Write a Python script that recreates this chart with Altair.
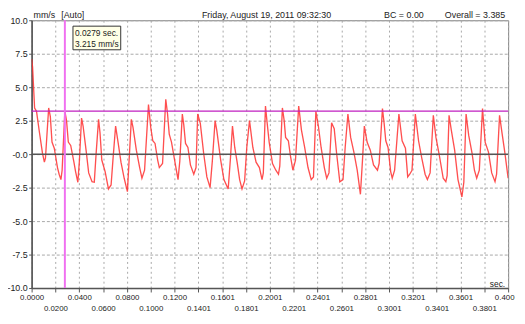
import altair as alt
import pandas as pd

# ---- waveform (seconds, mm/s) ----
time_s = [0.0000, 0.0008, 0.0025, 0.0041, 0.0066, 0.0091, 0.0107, 0.0116, 0.0143, 0.0157,
          0.0171, 0.0190, 0.0217, 0.0231, 0.0246, 0.0256, 0.0279, 0.0293, 0.0308, 0.0328,
          0.0355, 0.0369, 0.0388, 0.0401, 0.0419, 0.0432, 0.0457, 0.0479, 0.0507, 0.0526,
          0.0541, 0.0562, 0.0574, 0.0589, 0.0617, 0.0645, 0.0667, 0.0682, 0.0705, 0.0727,
          0.0750, 0.0777, 0.0804, 0.0818, 0.0837, 0.0851, 0.0879, 0.0907, 0.0926, 0.0948,
          0.0981, 0.1000, 0.1017, 0.1036, 0.1058, 0.1072, 0.1099, 0.1126, 0.1141, 0.1155,
          0.1174, 0.1209, 0.1229, 0.1244, 0.1265, 0.1277, 0.1292, 0.1312, 0.1333, 0.1361,
          0.1380, 0.1394, 0.1416, 0.1444, 0.1471, 0.1498, 0.1517, 0.1540, 0.1554, 0.1587,
          0.1614, 0.1650, 0.1669, 0.1686, 0.1705, 0.1725, 0.1746, 0.1766, 0.1788, 0.1806,
          0.1829, 0.1857, 0.1884, 0.1912, 0.1934, 0.1945, 0.1963, 0.1975, 0.1994, 0.2022,
          0.2050, 0.2072, 0.2083, 0.2105, 0.2120, 0.2132, 0.2155, 0.2174, 0.2193, 0.2215,
          0.2242, 0.2265, 0.2292, 0.2320, 0.2347, 0.2366, 0.2386, 0.2407, 0.2430, 0.2457,
          0.2477, 0.2496, 0.2518, 0.2540, 0.2560, 0.2587, 0.2614, 0.2632, 0.2655, 0.2678,
          0.2705, 0.2733, 0.2760, 0.2777, 0.2793, 0.2816, 0.2843, 0.2870, 0.2903, 0.2917,
          0.2945, 0.2959, 0.2973, 0.2992, 0.3014, 0.3027, 0.3047, 0.3083, 0.3110, 0.3138,
          0.3157, 0.3174, 0.3193, 0.3221, 0.3248, 0.3275, 0.3303, 0.3322, 0.3345, 0.3372,
          0.3394, 0.3422, 0.3455, 0.3477, 0.3488, 0.3504, 0.3523, 0.3551, 0.3579, 0.3612,
          0.3628, 0.3647, 0.3669, 0.3697, 0.3717, 0.3736, 0.3758, 0.3785, 0.3807, 0.3835,
          0.3862, 0.3890, 0.3903, 0.3928, 0.3950, 0.3973, 0.4000]
velocity_mm_s = [7.10, 6.50, 3.45, 3.20, 1.60, 0.07, -0.60, -0.30, 3.45, 2.80,
                 0.90, 0.44, -1.00, -1.50, -1.90, -1.20, 3.215, 2.50, 0.90, 0.65,
                 -0.60, -1.30, -2.10, -0.50, 2.70, 2.10, 0.30, -1.40, -2.06, -2.10,
                 0.00, 2.60, 1.60, -0.44, -1.30, -2.60, -2.30, -0.50, 2.10, 0.80,
                 -0.60, -1.80, -2.80, -0.50, 2.60, 2.00, 0.30, -1.00, -1.80, -1.20,
                 3.70, 2.00, 1.00, 0.80, -0.44, -1.00, -0.70, 4.10, 3.00, 1.50,
                 0.90, -0.90, -1.90, -0.50, 3.00, 2.20, 0.80, 0.50, -0.80, -1.50,
                 -1.00, 3.00, 2.30, 0.07, -1.70, -2.50, -0.50, 2.50, 1.80, -0.44,
                 -1.90, -2.60, -0.30, 2.10, 0.50, -0.60, -1.90, -2.60, -2.00, 0.50,
                 2.50, 0.50, -0.60, -1.00, -1.90, -1.40, 3.60, 2.50, 0.90, -0.70,
                 -1.20, -1.50, -0.90, 3.45, 2.50, 1.25, 1.00, -0.20, -1.20, -0.44,
                 3.60, 1.80, 0.50, -1.00, -1.90, -1.70, 3.20, 2.10, 0.50, -1.00,
                 -1.80, -1.40, 2.35, 1.90, 0.07, -2.06, -1.90, 0.50, 3.00, 1.25,
                 0.15, -1.20, -3.00, -0.50, 2.10, 0.90, 0.30, -0.80, -1.20, -0.70,
                 3.40, 2.30, 1.00, 0.50, -1.30, -1.80, -1.20, 3.00, 1.00, 0.44,
                 -1.70, -1.50, -1.20, 3.00, 1.00, -0.30, -1.50, -1.90, -1.40, 2.90,
                 1.25, -0.07, -1.80, -2.06, -1.60, 2.90, 1.80, 0.30, -1.90, -3.20,
                 -2.10, 3.00, 1.40, 0.07, -1.20, -1.80, -1.20, 3.40, 0.90, 0.15,
                 -1.40, -2.06, -1.50, 2.90, 1.50, 0.07, -1.80]

# ---- axes ----
x_tick_values = [0.00, 0.02, 0.04, 0.06, 0.08, 0.10, 0.12, 0.14, 0.16, 0.18, 0.20,
                 0.22, 0.24, 0.26, 0.28, 0.30, 0.32, 0.34, 0.36, 0.38, 0.40]
x_tick_labels = ["0.0000", "0.0200", "0.0400", "0.0600", "0.0800", "0.1000", "0.1200",
                 "0.1401", "0.1601", "0.1801", "0.2001", "0.2201", "0.2401", "0.2601",
                 "0.2801", "0.3001", "0.3201", "0.3401", "0.3601", "0.3801", "0.400"]
y_tick_values = [-10, -7.5, -5, -2.5, 0, 2.5, 5, 7.5, 10]
y_tick_labels = ["-10.0", "-7.5", "-5.0", "-2.5", "-0.0", "2.5", "5.0", "7.5", "10.0"]

# ---- cursor / reference ----
cursor_time = [0.0279]
cursor_level = [3.215]
zero_level = [0.0]

# ---- texts ----
unit_text = "mm/s"
mode_text = "[Auto]"
date_text = "Friday, August 19, 2011 09:32:30"
bc_text = "BC = 0.00"
overall_text = "Overall = 3.385"
sec_text = "sec."
cursor_lines = ["0.0279 sec.", "3.215 mm/s"]

FONT = "Liberation Sans"

parts = []
for i, lab in enumerate(x_tick_labels):
    parts.append(f"'{lab}'" if i % 2 == 0 else f"['','{lab}']")
x_label_expr = "[" + ",".join(parts) + "][round(datum.value*50)]"
y_label_expr = "[" + ",".join(f"'{l}'" for l in y_tick_labels) + "][round(datum.value/2.5)+4]"

x_scale = alt.Scale(domain=[0, 0.4], nice=False, zero=False)
y_scale = alt.Scale(domain=[-10, 10], nice=False)

x_axis = alt.Axis(values=x_tick_values, labelExpr=x_label_expr, title=None,
                  grid=True, gridDash=[2, 3], gridColor="#a8a8a8", gridWidth=1,
                  tickSize=4, tickColor="#555555", domainColor="#555555", domainWidth=1.6,
                  labelFont=FONT, labelFontSize=8, labelColor="#222222",
                  labelLineHeight=11, labelPadding=2, labelOverlap=False, labelFlush=False,
                  labelOffset={"condition": {"test": "datum.value >= 0.399", "value": -4},
                               "value": 0})
y_axis = alt.Axis(values=y_tick_values, labelExpr=y_label_expr, title=None,
                  grid=True, gridDash=[3, 2], gridColor="#a8a8a8", gridWidth=1,
                  tickSize=3, tickColor="#555555", domainColor="#555555", domainWidth=1.6,
                  labelFont=FONT, labelFontSize=9, labelColor="#222222",
                  labelPadding=1.5, labelOverlap=False, labelFlush=False)

X = alt.X("t:Q", scale=x_scale, axis=x_axis)
Y = alt.Y("v:Q", scale=y_scale, axis=y_axis)

wave = pd.DataFrame({"t": time_s, "v": velocity_mm_s})

line = alt.Chart(wave).mark_line(color="#ff3030", strokeWidth=1.35, opacity=0.85,
                                 clip=True).encode(x=X, y=Y)

zero_rule = alt.Chart(pd.DataFrame({"v": zero_level})).mark_rule(
    color="#555555", strokeWidth=1.5).encode(y=Y)
level_rule = alt.Chart(pd.DataFrame({"v": cursor_level})).mark_rule(
    color="#c020c0", strokeWidth=1.2).encode(y=Y)
cursor_rule = alt.Chart(pd.DataFrame({"t": cursor_time})).mark_rule(
    color="#f070f0", strokeWidth=2).encode(x=X)

one = pd.DataFrame({"k": [0]})
box = alt.Chart(one).mark_rect(fill="#ffffe6", stroke="#333333", strokeWidth=1).encode(
    x=alt.value(42), x2=alt.value(90.5), y=alt.value(6), y2=alt.value(30))
box_t1 = alt.Chart(one).mark_text(align="left", baseline="middle", font=FONT,
                                  fontSize=8.5, color="#222222").encode(
    x=alt.value(44), y=alt.value(12.5), text=alt.value(cursor_lines[0]))
box_t2 = alt.Chart(one).mark_text(align="left", baseline="middle", font=FONT,
                                  fontSize=8.5, color="#222222").encode(
    x=alt.value(44), y=alt.value(24), text=alt.value(cursor_lines[1]))


def header(txt, xpos, align="left"):
    return alt.Chart(one).mark_text(align=align, baseline="middle", font=FONT,
                                    fontSize=9, color="#222222").encode(
        x=alt.value(xpos), y=alt.value(-5), text=alt.value(txt))


h1 = header(unit_text, 2)
h2 = header(mode_text, 30)
h3 = header(date_text, 173)
h4 = header(bc_text, 358)
h5 = header(overall_text, 481, "right")
sec = alt.Chart(one).mark_text(align="right", baseline="middle", font=FONT,
                               fontSize=8.5, color="#222222").encode(
    x=alt.value(481), y=alt.value(267.5), text=alt.value(sec_text))

chart = alt.layer(line, zero_rule, level_rule, cursor_rule, box, box_t1, box_t2,
                  h1, h2, h3, h4, h5, sec).properties(
    width=484, height=272,
    padding={"left": 24, "top": 10, "right": 9, "bottom": 30},
    autosize=alt.AutoSizeParams(type="none"),
    background="white",
).configure_view(stroke="#808080", strokeWidth=1)

chart.save("out.html", embed_options={"renderer": "svg", "actions": False})
